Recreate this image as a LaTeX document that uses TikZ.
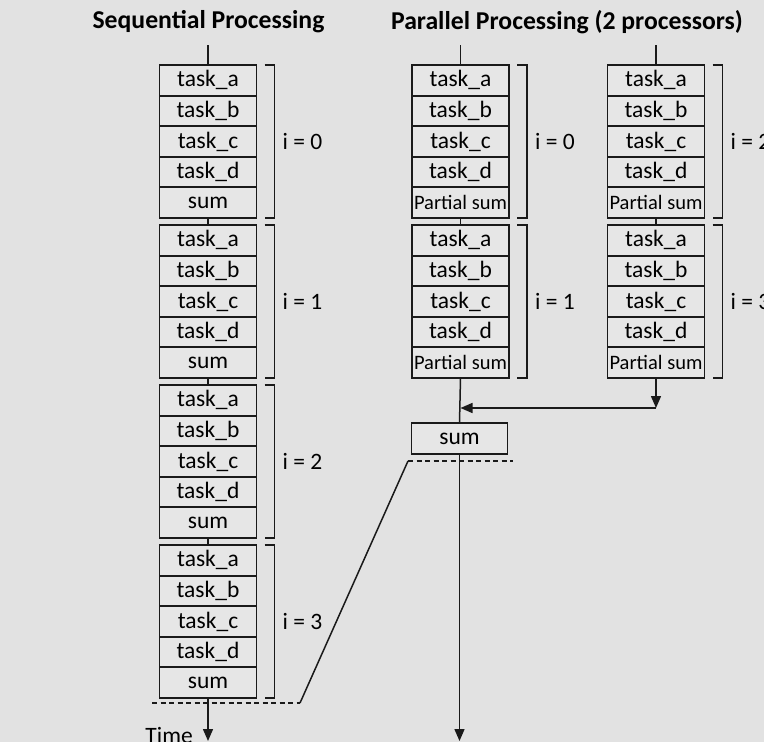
\documentclass[tikz,border=0pt]{standalone}
\usepackage{fontspec}
\setmainfont{Carlito}
\usepackage{tikz}
\usetikzlibrary{arrows.meta,positioning,calc}
\definecolor{ink}{HTML}{1A1A1A}
\definecolor{paper}{HTML}{E2E2E2}
\definecolor{cellfill}{HTML}{E6E6E6}

\begin{document}
\begin{tikzpicture}[
  x=1pt,y=-1pt,
  font=\fontsize{23.5}{26}\selectfont,
  cell/.style={draw=ink,line width=1.9pt,fill=cellfill,minimum width=97pt,
               minimum height=30.6pt,inner sep=0pt,outer sep=0pt},
  psum/.style={cell,font=\fontsize{20.5}{23}\selectfont},
  brace/.style={draw=ink,line width=1.8pt},
  link/.style={draw=ink,line width=1.5pt},
  arrow/.style={-{Triangle[length=12pt,width=10pt]},draw=ink,line width=1.5pt},
  cut/.style={draw=ink,line width=1.5pt,dash pattern=on 5pt off 3.5pt},
  lbl/.style={anchor=west,inner sep=0pt},
  title/.style={font=\fontsize{25.7}{30}\selectfont\bfseries},
]
\clip (0,0) rectangle (764,742);
\fill[paper] (0,0) rectangle (764,742);

\node[title] (seqtitle) at (208.5,22) {Sequential Processing};
\node[title] (partitle) at (567,22) {Parallel Processing (2 processors)};

% sequential column
\foreach \g in {0,...,3} {
  \foreach \t [count=\r from 0] in {task\_a,task\_b,task\_c,task\_d,sum}
    \node[cell] (s\g\r) at (208,{80.3+160*\g+30.6*\r}) {\t};
  \draw[brace] ([xshift=8pt]s\g0.north east) -- ++(10,0) |- ([xshift=8pt]s\g4.south east);
  \node[lbl] (si\g) at ([xshift=26pt]s\g2.east) {i = \g};
}
\coordinate (stop) at (208,45);
\draw[link] (stop) -- (s00.north);
\draw[link] (s04.south) -- (s10.north);
\draw[link] (s14.south) -- (s20.north);
\draw[link] (s24.south) -- (s30.north);

% two processors
\foreach \g/\i in {0/0,1/1} {
  \foreach \t [count=\r from 0] in {task\_a,task\_b,task\_c,task\_d}
    \node[cell] (a\g\r) at (460.5,{80.3+160*\g+30.6*\r}) {\t};
  \node[psum] (a\g4) at (460.5,{80.3+160*\g+30.6*4}) {Partial sum};
  \draw[brace] ([xshift=8pt]a\g0.north east) -- ++(10,0) |- ([xshift=8pt]a\g4.south east);
  \node[lbl] (ai\g) at ([xshift=26pt]a\g2.east) {i = \i};
}
\foreach \g/\i in {0/2,1/3} {
  \foreach \t [count=\r from 0] in {task\_a,task\_b,task\_c,task\_d}
    \node[cell] (b\g\r) at (656,{80.3+160*\g+30.6*\r}) {\t};
  \node[psum] (b\g4) at (656,{80.3+160*\g+30.6*4}) {Partial sum};
  \draw[brace] ([xshift=8pt]b\g0.north east) -- ++(10,0) |- ([xshift=8pt]b\g4.south east);
  \node[lbl] (bi\g) at ([xshift=26pt]b\g2.east) {i = \i};
}
\coordinate (atop) at (460.5,45);
\coordinate (btop) at (656,45);
\draw[link] (atop) -- (a00.north);
\draw[link] (btop) -- (b00.north);
\draw[link] (a04.south) -- (a10.north);
\draw[link] (b04.south) -- (b10.north);

\node[cell,minimum width=96pt,minimum height=31pt] (total) at (459.5,438.5) {sum};
\coordinate (join) at (656,408);
\draw[arrow] (b14.south) -- (join);
\draw[arrow] (join) -- (join -| a14.south);
\draw[link] (a14.south) -- (total.north);

% time axes
\coordinate (send) at (208,741);
\coordinate (pend) at (459.5,741);
\draw[arrow] (s34.south) -- (send);
\draw[arrow] (total.south) -- (pend);
\node[anchor=base east,inner sep=0pt] (time) at (193,743) {Time};

\coordinate (sline) at (152,703);
\coordinate (sknee) at (300,703);
\coordinate (pknee) at (408,461);
\coordinate (pline) at (513,461);
\draw[cut] (sline) -- (sknee);
\draw[link] (sknee) -- (pknee);
\draw[cut] (pknee) -- (pline);
\end{tikzpicture}
\end{document}
